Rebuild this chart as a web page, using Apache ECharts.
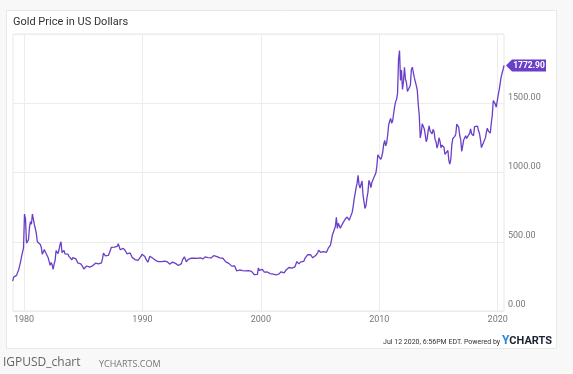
<!DOCTYPE html>
<html><head><meta charset="utf-8">
<script src="https://cdn.jsdelivr.net/npm/echarts@6/dist/echarts.min.js"></script>
<style>html,body{margin:0;padding:0;background:#f8f8f8;}#c{width:573px;height:374px;}</style>
</head><body><div id="c"></div>
<script>
// Monthly gold prices (USD)
const startYear = 1979;
const prices1979_1988 = [
  215,245,242,239,257,279,295,301,355,392,392,456,
  700,665,490,500,513,600,645,627,700,661,623,594,
  558,500,499,495,480,461,409,410,443,437,413,410,
  384,374,330,350,334,300,339,364,436,422,414,444,
  481,500,421,432,438,413,423,416,411,394,382,388,
  370,386,394,381,377,378,347,348,341,340,341,320,
  303,290,304,325,316,317,317,330,324,326,325,322,
  345,339,346,340,342,343,348,376,418,423,398,391,
  408,401,409,438,460,450,456,461,460,465,467,486,
  477,442,444,452,452,451,437,432,413,406,420,419
];
const prices1989_1998 = [
  404,388,390,384,371,367,375,365,362,367,394,409,
  410,417,393,374,369,352,362,395,389,381,381,378,
  384,364,363,358,357,367,368,356,349,358,360,361,
  354,354,345,338,337,341,353,343,345,344,335,334,
  329,330,330,342,367,372,392,379,355,365,373,383,
  387,382,384,377,381,386,385,380,391,389,384,379,
  379,376,382,391,385,387,386,383,383,383,386,387,
  400,405,396,393,392,385,383,387,383,381,378,369,
  355,346,352,344,344,341,324,324,323,325,306,289,
  289,297,296,308,299,292,293,284,289,296,294,291
];
const prices1999_2008 = [
  287,288,286,282,277,262,256,257,265,311,293,283,
  285,300,286,280,275,286,282,275,273,270,266,272,
  266,262,263,260,272,270,268,273,283,283,276,276,
  282,296,294,302,314,322,314,310,319,317,319,333,
  357,359,340,328,355,356,351,359,378,379,389,407,
  414,405,406,404,384,392,398,400,406,420,439,442,
  424,423,434,429,422,431,424,437,456,470,476,510,
  549,555,557,610,676,596,633,632,598,585,627,629,
  631,664,655,679,667,655,665,665,712,754,806,803,
  889,923,980,909,888,890,939,839,829,740,760,816
];
const prices2009_2020 = [
  858,943,924,890,928,945,934,949,996,1043,1127,1134,
  1118,1095,1114,1148,1205,1232,1193,1215,1271,1343,1370,1391,
  1356,1372,1424,1474,1510,1528,1572,1820,1880,1665,1739,1600,
  1656,1760,1673,1650,1585,1596,1594,1630,1744,1760,1722,1685,
  1671,1627,1593,1487,1414,1250,1286,1352,1349,1316,1275,1222,
  1244,1300,1336,1299,1288,1279,1311,1296,1239,1222,1176,1201,
  1251,1227,1179,1198,1199,1182,1131,1117,1125,1159,1086,1060,
  1097,1200,1246,1242,1261,1276,1350,1341,1326,1267,1238,1152,
  1192,1234,1231,1266,1246,1260,1237,1283,1315,1280,1283,1265,
  1331,1331,1325,1335,1303,1282,1238,1180,1198,1215,1221,1250,
  1291,1320,1300,1286,1284,1359,1413,1520,1510,1495,1471,1480,
  1560,1597,1600,1690,1720,1745
];
const lastPoint = [2020.53, 1772.90];
const xTicks = [1980, 1990, 2000, 2010, 2020];

const allPrices = [].concat(prices1979_1988, prices1989_1998, prices1999_2008, prices2009_2020);
const seriesData = allPrices.map((v, i) => [startYear + (i + 0.5) / 12, v]);
seriesData.push(lastPoint);

const chart = echarts.init(document.getElementById('c'));
const purple = '#6a3fc8';
chart.setOption({
  backgroundColor: '#f8f8f8',
  animation: false,
  graphic: [
    {type: 'rect', shape: {x: 6.5, y: 10.5, width: 550, height: 338}, style: {fill: '#fff', stroke: '#e8e8e8', lineWidth: 1}, z: -10},
    {type: 'text', left: 13, top: 17, style: {text: 'Gold Price in US Dollars', font: '11px Roboto', fill: '#333'}},
    {type: 'text', right: 21, top: 335, style: {
      text: '{a|Jul 12 2020, 6:56PM EDT. Powered by }{y|Y}{b|CHARTS}',
      rich: {
        a: {font: '7px Roboto', fill: '#333', verticalAlign: 'bottom', padding: [0, 0, 1, 0]},
        y: {font: 'bold 12px Roboto', fill: '#2a8ad8', verticalAlign: 'bottom'},
        b: {font: 'bold 11px Roboto', fill: '#1b2430', verticalAlign: 'bottom'}
      }
    }},
    {type: 'text', left: 3, top: 357, style: {text: 'IGPUSD_chart', font: '12px "Open Sans"', fill: '#666'}},
    {type: 'text', left: 99, top: 360, style: {text: 'YCHARTS.COM', font: '9px "Open Sans"', fill: '#777'}}
  ],
  grid: {left: 13, right: 69, top: 34, bottom: 63, show: true, borderColor: '#e8e8e8', borderWidth: 1, backgroundColor: 'transparent'},
  xAxis: {
    type: 'value', min: 1979.07, max: 2020.53,
    axisLine: {show: false}, axisTick: {show: false, customValues: xTicks},
    axisLabel: {customValues: xTicks, formatter: v => String(Math.round(v)), color: '#777', fontSize: 9, fontFamily: 'Roboto', margin: 4},
    splitLine: {show: true, lineStyle: {color: '#ececec', width: 1}}
  },
  yAxis: {
    type: 'value', position: 'right', min: 0, max: 2000, interval: 500,
    axisLine: {show: false}, axisTick: {show: false},
    axisLabel: {formatter: v => v >= 2000 ? '' : v.toFixed(2), color: '#777', fontSize: 9, fontFamily: 'Roboto', margin: 4, align: 'left', verticalAlign: 'bottom', lineHeight: 12},
    splitLine: {show: true, lineStyle: {color: '#ececec', width: 1}}
  },
  series: [{
    type: 'line', data: seriesData, showSymbol: false, symbol: 'none',
    lineStyle: {color: purple, width: 1.3}, clip: false,
    markPoint: {
      silent: true,
      data: [{coord: lastPoint, value: lastPoint[1]}],
      symbol: 'path://M0,6 L6,0 L40,0 L40,12 L6,12 Z',
      symbolSize: [40, 12], symbolOffset: [22, 0], symbolKeepAspect: false,
      itemStyle: {color: purple},
      label: {show: true, position: 'inside', formatter: p => p.value.toFixed(2), color: '#fff', fontSize: 8.5, fontWeight: 'bold', fontFamily: 'Roboto', offset: [3, 0]}
    }
  }]
});
</script></body></html>
